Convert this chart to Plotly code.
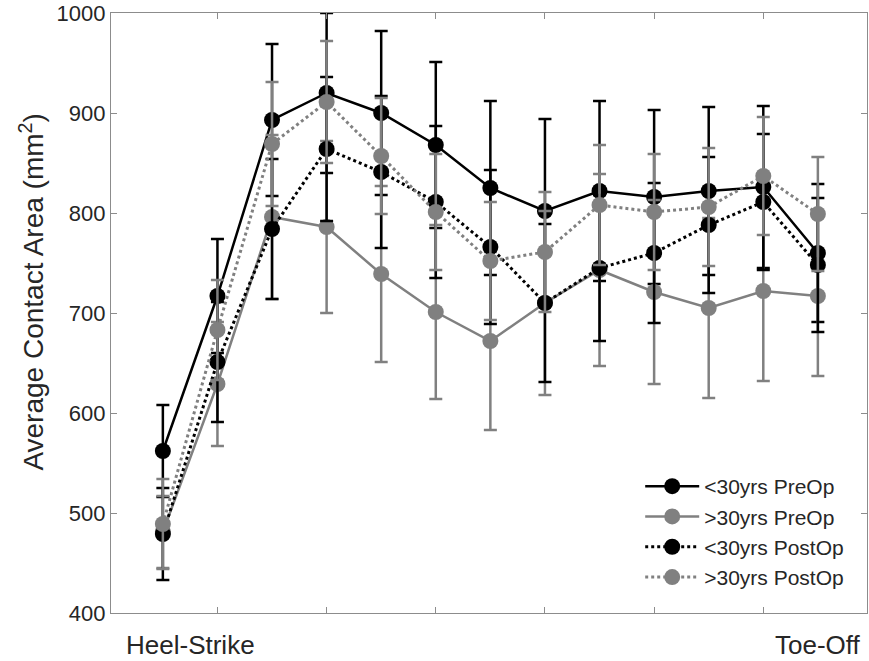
import plotly.graph_objects as go

# Gait phase sample index (heel-strike -> toe-off)
phase = list(range(1, 14))

series_names = ["<30yrs PreOp", ">30yrs PreOp", "<30yrs PostOp", ">30yrs PostOp"]

young_pre = [562, 717, 893, 920, 900, 868, 825, 802, 822, 816, 822, 826, 760]
young_pre_sd = [46, 57, 76, 80, 82, 83, 87, 92, 90, 87, 84, 81, 69]

old_pre = [481, 629, 796, 786, 739, 701, 672, 710, 743, 721, 705, 722, 717]
old_pre_sd = [36, 62, 82, 86, 88, 87, 89, 92, 96, 92, 90, 90, 80]

young_post = [479, 651, 784, 864, 841, 811, 766, 710, 745, 760, 788, 811, 748]
young_post_sd = [46, 60, 70, 72, 76, 76, 77, 79, 73, 70, 68, 68, 67]

old_post = [489, 683, 869, 911, 857, 801, 752, 761, 808, 801, 806, 837, 799]
old_post_sd = [45, 50, 62, 61, 58, 58, 59, 60, 60, 58, 59, 59, 57]

y_ticks = [400, 500, 600, 700, 800, 900, 1000]
x_ticks = [2, 4, 6, 8, 10, 12]
phase_labels = ["Heel-Strike", "Toe-Off"]
phase_label_pos = [1.5, 13]

BLACK = "#000000"
GREY = "#808080"
AXIS = "#8c8c8c"
TEXT = "#262626"
FONT = "Liberation Sans, Arial, sans-serif"

styles = [
    (young_pre, young_pre_sd, BLACK, "solid", 2.5),
    (old_pre, old_pre_sd, GREY, "solid", 2.5),
    (young_post, young_post_sd, BLACK, "dot", 3),
    (old_post, old_post_sd, GREY, "dot", 3),
]

fig = go.Figure()
for name, (vals, sd, color, dash, lw) in zip(series_names, styles):
    fig.add_trace(go.Scatter(
        x=phase, y=vals, name=name, mode="lines+markers",
        line=dict(color=color, width=lw, dash=dash),
        marker=dict(color=color, size=16, line=dict(width=0)),
        error_y=dict(type="data", array=sd, visible=True,
                     color=color, thickness=2.5, width=6.5),
    ))

axis_common = dict(
    showgrid=False, zeroline=False, showline=True, mirror="ticks",
    linecolor=AXIS, linewidth=1.3, ticks="inside", ticklen=6,
    tickcolor=AXIS, tickwidth=1.3,
)

fig.update_xaxes(range=[0.05, 13.9], tickvals=x_ticks, showticklabels=False,
                 **axis_common)
fig.update_yaxes(range=[400, 1000], tickvals=y_ticks,
                 tickfont=dict(family=FONT, size=22, color=TEXT),
                 **axis_common)

# Gait-event labels under the phase axis
for label, pos in zip(phase_labels, phase_label_pos):
    fig.add_annotation(x=pos, y=-0.053, xref="x", yref="paper", text=label,
                       showarrow=False, xanchor="center", yanchor="middle",
                       font=dict(family=FONT, size=26, color=TEXT))

# Y-axis title
fig.add_annotation(x=-0.105, y=0.535, xref="paper", yref="paper",
                   text="Average Contact Area (mm<sup>2</sup>)", textangle=-90,
                   showarrow=False, xanchor="center", yanchor="middle",
                   font=dict(family=FONT, size=28, color=TEXT))

fig.update_layout(
    width=869, height=661,
    margin=dict(l=111, r=2, t=13, b=48),
    paper_bgcolor="white", plot_bgcolor="white",
    showlegend=True,
    legend=dict(x=0.70, y=0.245, xanchor="left", yanchor="top",
                bgcolor="rgba(0,0,0,0)", borderwidth=0,
                font=dict(family=FONT, size=21, color=TEXT),
                itemwidth=54, tracegroupgap=0),
)

fig.write_html("out.html")
